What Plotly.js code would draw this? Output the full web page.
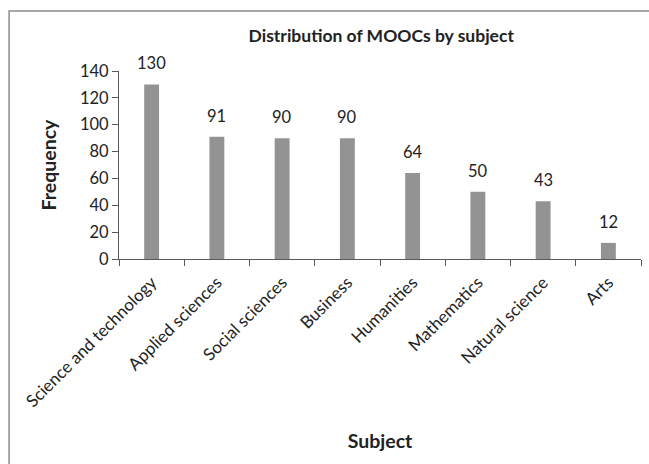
<!DOCTYPE html>
<html><head><meta charset="utf-8">
<script src="https://cdn.plot.ly/plotly-3.0.1.min.js"></script>
<style>html,body{margin:0;padding:0;background:#fff}#chart{width:649px;height:464px}</style>
</head><body><div id="chart"></div>
<script>
const subjects = ["Science and technology","Applied sciences","Social sciences","Business","Humanities","Mathematics","Natural science","Arts"];
const frequency = [130, 91, 90, 90, 64, 50, 43, 12];
const yTicks = [0, 20, 40, 60, 80, 100, 120, 140];

const font = "Lato, 'Open Sans', sans-serif";
const txt = "#222222";
const axc = "#595959";

const trace = {
  type: "bar", x: subjects, y: frequency,
  marker: {color: "#939393"}, width: 0.228,
  hoverinfo: "x+y"
};

const annotations = subjects.map((s, i) => ({
  x: s, y: frequency[i], xref: "x", yref: "y", text: String(frequency[i]),
  showarrow: false, yanchor: "middle", yshift: 21,
  font: {family: font, size: 16.5, color: txt}
}));

const L = 118.5, R = 641, T = 71, B = 259, W = 649, H = 464;
const pw = R - L, ph = B - T;
const px = v => (v - L) / pw, py = v => (B - v) / ph;

const layout = {
  width: W, height: H,
  margin: {l: L, r: W - R, t: T, b: H - B, pad: 0},
  paper_bgcolor: "#fff", plot_bgcolor: "#fff",
  font: {family: font, color: txt},
  showlegend: false,
  title: {text: "<b>Distribution of MOOCs by subject</b>", font: {family: font, size: 17.5, color: txt},
          x: px(381), xref: "paper", xanchor: "center", y: 1 - 36 / H, yanchor: "middle"},
  xaxis: {
    type: "category", showline: true, linecolor: axc, linewidth: 1,
    ticks: "outside", tickson: "boundaries", ticklen: 6, tickcolor: axc,
    tickangle: -45, tickfont: {family: font, size: 17, color: txt}, ticklabelstandoff: 6,
    showgrid: false, zeroline: false, automargin: false,
    title: {text: "<b>Subject</b>", font: {family: font, size: 19.5, color: txt}, standoff: 24}
  },
  yaxis: {
    range: [0, 140], tickvals: yTicks, showline: true, linecolor: axc, linewidth: 1,
    ticks: "outside", ticklen: 6, tickcolor: axc,
    tickfont: {family: font, size: 16.5, color: txt},
    showgrid: false, zeroline: false, automargin: false,
    title: {text: "<b>Frequency</b>", font: {family: font, size: 19.5, color: txt}, standoff: 18}
  },
  annotations: annotations,
  shapes: [{
    type: "rect", xref: "paper", yref: "paper",
    x0: px(8.5), x1: px(660), y0: py(480), y1: py(11),
    line: {color: "#8a8a8a", width: 1.5}, fillcolor: "rgba(0,0,0,0)", layer: "below"
  }]
};

Plotly.newPlot("chart", [trace], layout, {displayModeBar: false, staticPlot: true});
</script></body></html>
